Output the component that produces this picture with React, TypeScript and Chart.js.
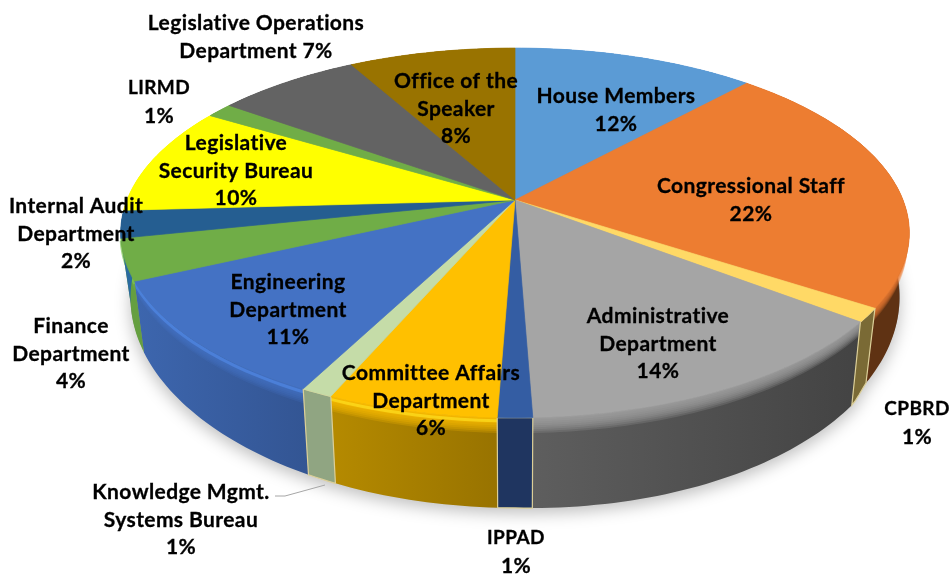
import React, { useEffect, useRef } from "react";
import { Chart, registerables } from "chart.js";

Chart.register(...registerables);

const categories = [
  "House Members", "Congressional Staff", "CPBRD", "Administrative Department", "IPPAD",
  "Committee Affairs Department", "Knowledge Mgmt. Systems Bureau", "Engineering Department",
  "Finance Department", "Internal Audit Department", "Legislative Security Bureau", "LIRMD",
  "Legislative Operations Department", "Office of the Speaker",
];
const shares = [11.8, 22.4, 1.2, 14.0, 1.2, 5.9, 1.1, 10.5, 3.6, 2.4, 9.5, 1.3, 7.0, 8.1];
const topColors = [
  "#5B9BD5", "#ED7D31", "#FFD966", "#A5A5A5", "#345DA3", "#FFC000", "#C5DCA8",
  "#4472C4", "#70AD47", "#255E91", "#FFFF00", "#70AD47", "#636363", "#997300",
];
const wallLeft = [
  "#5B9BD5", "#5F3213", "#7A6A35", "#5E5E5E", "#1F3560", "#B58A00", "#90A582",
  "#3D66AE", "#659F40", "#2A6AA0", "#CCCC00", "#70AD47", "#636363", "#997300",
];
const wallRight = [
  "#5B9BD5", "#5F3213", "#7A6A35", "#434343", "#1F3560", "#987300", "#90A582",
  "#335593", "#659F40", "#2A6AA0", "#CCCC00", "#70AD47", "#636363", "#997300",
];
const rimColors = [
  null, null, null, null, null, "#FFE020", null,
  "#5088E4", "#7CC552", null, null, null, null, null,
];
const labelLines = [
  ["House Members", "12%"], ["Congressional Staff", "22%"], ["CPBRD", "1%"],
  ["Administrative", "Department", "14%"], ["IPPAD", "1%"],
  ["Committee Affairs", "Department", "6%"], ["Knowledge Mgmt.", "Systems Bureau", "1%"],
  ["Engineering", "Department", "11%"], ["Finance", "Department", "4%"],
  ["Internal Audit", "Department", "2%"], ["Legislative", "Security Bureau", "10%"],
  ["LIRMD", "1%"], ["Legislative Operations", "Department 7%"], ["Office of the", "Speaker", "8%"],
];
// label layout: centre x and first-line y
const labelPlace = [
  [616, 96], [751, 186], [917, 409], [658, 316], [516, 538], [431, 373], [181, 492],
  [288, 282], [71, 326], [76, 206], [236, 143], [159, 88], [256, 23], [456, 81],
];
const flaggedSlices = [2, 4, 6];

const CX = 515, CY = 200, RAD = 388, FLAT = 179, PERSP = 0.178, DEPTH = 60.9, SHRINK = 0.025;

function project(theta: number, t: number) {
  const c = Math.cos(theta), sn = Math.sin(theta);
  const s = 1 / (1 + PERSP * c);
  let x = CX + RAD * sn * s;
  let y = CY - FLAT * c * s;
  if (t > 0) {
    x = CX + (x - CX) * (1 - SHRINK * t);
    const u = Math.min(1, Math.max(0, (theta - 2.155) / 0.06));
    const lift = theta < Math.PI ? 1 + 0.11 * u * sn : 1;
    y += DEPTH * s * s * t * lift;
  }
  return [x, y];
}

function arcPoints(a0: number, a1: number, t: number) {
  const n = Math.max(2, Math.ceil((a1 - a0) / 0.02));
  const out: number[][] = [];
  for (let i = 0; i <= n; i++) out.push(project(a0 + ((a1 - a0) * i) / n, t));
  return out;
}

function trace(ctx: CanvasRenderingContext2D, pts: number[][]) {
  ctx.beginPath();
  pts.forEach((p, i) => (i ? ctx.lineTo(p[0], p[1]) : ctx.moveTo(p[0], p[1])));
  ctx.closePath();
}

const pie3d = {
  id: "pie3d",
  beforeDatasetsDraw(chart: any) {
    const ctx: CanvasRenderingContext2D = chart.ctx;
    const arcs = chart.getDatasetMeta(0).data;
    const spans = arcs.map((a: any) => [a.startAngle + Math.PI / 2, a.endAngle + Math.PI / 2]);

    // ground shadow
    ctx.save();
    ctx.shadowColor = "rgba(0,0,0,0.25)";
    ctx.shadowBlur = 16;
    ctx.shadowOffsetY = 8;
    ctx.fillStyle = "#888";
    trace(ctx, arcPoints(0, Math.PI * 2, 0.97));
    ctx.fill();
    ctx.restore();

    const wall = (i: number) => {
      const [a0, a1] = spans[i];
      const lower = arcPoints(a0, a1, 1);
      const upper = arcPoints(a0, a1, 0);
      const xs = upper.concat(lower).map((p) => p[0]);
      const g = ctx.createLinearGradient(Math.min(...xs), 0, Math.max(...xs), 0);
      g.addColorStop(0, wallLeft[i]);
      g.addColorStop(1, wallRight[i]);
      trace(ctx, upper.concat(lower.slice().reverse()));
      ctx.fillStyle = g;
      ctx.fill();
      if (flaggedSlices.includes(i)) return;
      // bevel along the rim
      ctx.save();
      ctx.fillStyle = topColors[i];
      ctx.globalAlpha = 0.22;
      for (let b = 1; b <= 8; b++) {
        const band = arcPoints(a0, a1, (b / 8) * 0.17);
        trace(ctx, upper.concat(band.slice().reverse()));
        ctx.fill();
      }
      const rim = rimColors[i];
      if (rim) {
        ctx.globalAlpha = 0.7;
        ctx.strokeStyle = rim;
        ctx.lineWidth = 3;
        ctx.beginPath();
        arcPoints(a0, a1, 0.035).forEach((p, k) => (k ? ctx.lineTo(p[0], p[1]) : ctx.moveTo(p[0], p[1])));
        ctx.stroke();
      }
      ctx.restore();
    };
    const top = (i: number) => {
      const [a0, a1] = spans[i];
      trace(ctx, [[CX, CY], ...arcPoints(a0, a1, 0)]);
      ctx.fillStyle = topColors[i];
      ctx.strokeStyle = topColors[i];
      ctx.lineWidth = 0.7;
      ctx.fill();
      ctx.stroke();
    };

    arcs.forEach((_: any, i: number) => { if (!flaggedSlices.includes(i)) wall(i); });
    flaggedSlices.forEach((i) => {
      wall(i);
      const [a0, a1] = spans[i];
      trace(ctx, arcPoints(a0, a1, 0).concat(arcPoints(a0, a1, 1).reverse()));
      ctx.strokeStyle = "#DCCF98";
      ctx.lineWidth = 1.2;
      ctx.stroke();
    });
    arcs.forEach((_: any, i: number) => top(i));
    return false;
  },
  afterDraw(chart: any) {
    const ctx: CanvasRenderingContext2D = chart.ctx;
    ctx.save();
    // leader line for the Knowledge Mgmt. label
    ctx.strokeStyle = "#A6A6A6";
    ctx.lineWidth = 1;
    ctx.beginPath();
    ctx.moveTo(275, 496);
    ctx.lineTo(285, 496);
    ctx.lineTo(325, 485);
    ctx.stroke();

    (ctx as any).letterSpacing = "0.4px";
    ctx.fillStyle = "#000";
    ctx.strokeStyle = "#000";
    ctx.lineWidth = 0.3;
    ctx.textAlign = "center";
    ctx.textBaseline = "middle";
    labelLines.forEach((lines, i) => {
      lines.forEach((line, j) => {
        const caps = /^[A-Z]+$/.test(line);
        ctx.font = `bold ${caps ? 19 : 21}px Lato, "Open Sans", sans-serif`;
        const y = labelPlace[i][1] + j * 27.8;
        ctx.fillText(line, labelPlace[i][0], y);
        ctx.strokeText(line, labelPlace[i][0], y);
      });
    });
    ctx.restore();
  },
};

export default function App() {
  const ref = useRef<HTMLCanvasElement>(null);
  useEffect(() => {
    document.body.style.margin = "0";
    const chart = new Chart(ref.current as HTMLCanvasElement, {
      type: "pie",
      data: {
        labels: categories,
        datasets: [{ data: shares, backgroundColor: topColors, borderWidth: 0 }],
      },
      options: {
        animation: false,
        responsive: false,
        plugins: { legend: { display: false }, tooltip: { enabled: false } },
      },
      plugins: [pie3d],
    } as any);
    return () => chart.destroy();
  }, []);
  return (
    <div style={{ width: 950, height: 574, background: "#fff" }}>
      <canvas ref={ref} width={950} height={574} style={{ display: "block", filter: "blur(0.4px)" }} />
    </div>
  );
}
